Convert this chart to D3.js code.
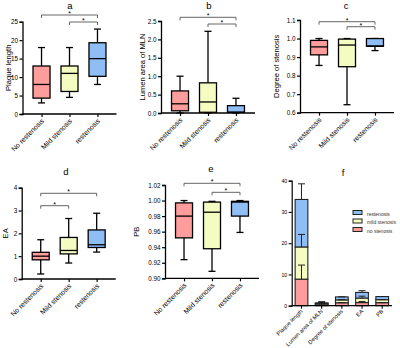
<!DOCTYPE html>
<html>
<head>
<meta charset="utf-8">
<script src="https://cdn.jsdelivr.net/npm/d3@7"></script>
<style>
  body { margin: 0; background: #fff; }
  svg { display: block; font-family: "Liberation Sans", Arial, sans-serif; }
</style>
</head>
<body>
<div id="chart"></div>
<script>
// groups on the x axis of panels a-e
var groups = ["No restenosis", "Mild stenosis", "restenosis"];
var colors = ["#ff9c9c", "#f5fcc2", "#8fbdf6"];

// box data per group: [min, q1, median, q3, max]
var plaqueLength = [[3, 4.3, 8, 13, 18], [4.5, 6.1, 11, 13, 18], [8, 10.2, 15, 19.3, 23]];
var lumenArea = [[0, 0.06, 0.25, 0.6, 1.0], [0, 0.02, 0.3, 0.82, 2.22], [0, 0.02, 0.02, 0.2, 0.4]];
var degreeStenosis = [[0.855, 0.912, 0.955, 0.99, 1.0], [0.643, 0.848, 0.965, 0.997, 1.0], [0.935, 0.958, 0.96, 1.0, 1.0]];
var eaValues = [[0.22, 0.84, 1.0, 1.17, 1.72], [0.7, 1.1, 1.25, 1.82, 2.65], [1.18, 1.38, 1.5, 2.15, 2.88]];
var pbValues = [[0.924, 0.952, 0.98, 0.997, 1.0], [0.909, 0.938, 0.985, 0.998, 0.999], [0.959, 0.98, 0.998, 0.999, 1.0]];

// tick labels
var ticksA = [0, 5, 10, 15, 20, 25];
var ticksB = [0, 0.5, 1.0, 1.5, 2.0, 2.5];
var ticksC = [0.6, 0.7, 0.8, 0.9, 1.0, 1.1];
var ticksD = [0, 1, 2, 3, 4];
var ticksE = [0.90, 0.92, 0.94, 0.96, 0.98, 1.00, 1.02];
var ticksF = [0, 10, 20, 30, 40];

// panel f: stacked means with SD
var fCategories = ["Plaque length", "Lumen area of MLN", "Degree of stenosis", "EA", "PB"];
var fNoStenosis = [8.5, 0.3, 0.95, 1.0, 0.97];
var fMildStenosis = [10.3, 0.45, 0.9, 1.45, 0.96];
var fRestenosis = [15.2, 0.15, 0.97, 1.8, 0.99];
var fNoSD = [4.5, 0.3, 0.04, 0.35, 0.03];
var fMildSD = [4, 0.55, 0.1, 0.6, 0.03];
var fRestSD = [5, 0.12, 0.03, 0.55, 0.02];
var fLegend = ["restenosis", "mild stenosis", "no stenosis"];

var svg = d3.select("#chart").append("svg").attr("width", 400).attr("height", 348);
var FONT = "Liberation Sans, Arial, sans-serif";

function boxPanel(o) {
  var x = d3.scalePoint().domain(groups).range([o.x0, o.x0 + 94]).padding(0.68);
  var y = d3.scaleLinear().domain(o.domain).range([o.y0, o.y1]);
  var g = svg.append("g");
  var bw = 17, cw = 7;

  g.append("g").attr("transform", "translate(" + o.x0 + ",0)")
    .call(d3.axisLeft(y).tickValues(o.ticks).tickFormat(d3.format(o.fmt)).tickSize(3).tickPadding(1.5))
    .call(function (a) {
      a.select(".domain").attr("stroke", "#000").attr("stroke-width", 1.3);
      a.selectAll("line").attr("stroke", "#000").attr("stroke-width", 1.2);
      a.selectAll("text").attr("font-size", 6.3).attr("font-family", FONT).attr("fill", "#000");
    });
  g.append("g").attr("transform", "translate(0," + o.y0 + ")")
    .call(d3.axisBottom(x).tickSize(3).tickSizeOuter(0))
    .call(function (a) {
      a.select(".domain").attr("stroke", "#000").attr("stroke-width", 1.3).attr("d", "M" + o.x0 + ",0H" + (o.x0 + 94));
      a.selectAll("line").attr("stroke", "#000").attr("stroke-width", 1.2);
      a.selectAll("text").attr("font-size", 7).attr("font-family", FONT).attr("fill", "#000")
        .attr("text-anchor", "end").attr("dy", 0).attr("y", 0)
        .attr("transform", "translate(2.5,7.5) rotate(-45)");
    });

  var b = g.selectAll(".box").data(o.data).join("g").attr("class", "box")
    .attr("transform", function (d, i) { return "translate(" + x(groups[i]) + ",0)"; });
  b.append("line").attr("y1", function (d) { return y(d[0]); }).attr("y2", function (d) { return y(d[4]); })
    .attr("stroke", "#000").attr("stroke-width", 1.3);
  b.append("line").attr("x1", -cw / 2).attr("x2", cw / 2)
    .attr("y1", function (d) { return y(d[0]); }).attr("y2", function (d) { return y(d[0]); })
    .attr("stroke", "#000").attr("stroke-width", 1.3);
  b.append("line").attr("x1", -cw / 2).attr("x2", cw / 2)
    .attr("y1", function (d) { return y(d[4]); }).attr("y2", function (d) { return y(d[4]); })
    .attr("stroke", "#000").attr("stroke-width", 1.3);
  b.append("rect").attr("x", -bw / 2).attr("width", bw)
    .attr("y", function (d) { return y(d[3]); })
    .attr("height", function (d) { return y(d[1]) - y(d[3]); })
    .attr("fill", function (d, i) { return colors[i]; })
    .attr("stroke", "#000").attr("stroke-width", 1.3);
  b.append("line").attr("x1", -bw / 2).attr("x2", bw / 2)
    .attr("y1", function (d) { return y(d[2]); }).attr("y2", function (d) { return y(d[2]); })
    .attr("stroke", "#000").attr("stroke-width", 1.3);

  // significance brackets
  o.brackets.forEach(function (br) {
    var xa = x(groups[br[0]]), xb = x(groups[br[1]]);
    g.append("path").attr("d", "M" + xa + "," + (br[2] + 3) + "V" + br[2] + "H" + xb + "V" + (br[2] + 3))
      .attr("fill", "none").attr("stroke", "#555").attr("stroke-width", 0.9);
    g.append("text").attr("x", (xa + xb) / 2).attr("y", br[2] + 1).attr("text-anchor", "middle")
      .attr("font-size", 7).attr("fill", "#000").text("*");
  });

  g.append("text").attr("x", o.titleX).attr("y", o.titleY).attr("text-anchor", "middle")
    .attr("font-size", 9.5).attr("fill", "#000").text(o.title);
  if (o.label) {
    g.append("text").attr("transform", "translate(" + o.labelX + "," + ((o.y0 + o.y1) / 2) + ") rotate(-90)")
      .attr("text-anchor", "middle").attr("font-size", 7.6).attr("font-weight", 500).attr("fill", "#000").text(o.label);
  }
}

boxPanel({ x0: 22.5, y0: 114, y1: 21.7, domain: [0, 25], ticks: ticksA, fmt: "d", data: plaqueLength,
  title: "a", titleX: 70, titleY: 9, label: "Plaque length", labelX: 11,
  brackets: [[0, 2, 15], [1, 2, 22]] });
boxPanel({ x0: 161, y0: 113, y1: 21, domain: [0, 2.5], ticks: ticksB, fmt: ".1f", data: lumenArea,
  title: "b", titleX: 209, titleY: 8.5, label: "Lumen area of MLN", labelX: 145,
  brackets: [[0, 2, 17.3], [1, 2, 24]] });
boxPanel({ x0: 300, y0: 112.7, y1: 20, domain: [0.6, 1.1], ticks: ticksC, fmt: ".1f", data: degreeStenosis,
  title: "c", titleX: 346, titleY: 8.5, label: "Degree of stenosis", labelX: 279,
  brackets: [[0, 2, 21.7], [1, 2, 26.7]] });
boxPanel({ x0: 21.7, y0: 279, y1: 187.7, domain: [0, 4], ticks: ticksD, fmt: "d", data: eaValues,
  title: "d", titleX: 66, titleY: 175, label: "EA", labelX: 8,
  brackets: [[0, 2, 193.3], [0, 1, 205.7]] });
boxPanel({ x0: 165, y0: 278.3, y1: 185, domain: [0.90, 1.02], ticks: ticksE, fmt: ".2f", data: pbValues,
  title: "e", titleX: 211, titleY: 172, label: "PB", labelX: 139,
  brackets: [[0, 2, 183.3], [1, 2, 192.3]] });

// panel f
(function () {
  var x0 = 291.7, y0 = 305.7;
  var x = d3.scaleBand().domain(fCategories).range([x0, 392]).paddingInner(0.37).paddingOuter(0.17);
  var y = d3.scaleLinear().domain([0, 40]).range([y0, 180.7]);
  var g = svg.append("g");
  var series = [fNoStenosis, fMildStenosis, fRestenosis];
  var sds = [fNoSD, fMildSD, fRestSD];
  var fcol = [colors[0], colors[1], colors[2]];

  g.append("g").attr("transform", "translate(" + x0 + ",0)")
    .call(d3.axisLeft(y).tickValues(ticksF).tickSize(3).tickPadding(1.5))
    .call(function (a) {
      a.select(".domain").attr("stroke", "#000").attr("stroke-width", 1.2);
      a.selectAll("line").attr("stroke", "#000").attr("stroke-width", 1.1);
      a.selectAll("text").attr("font-size", 5.2).attr("font-family", FONT).attr("fill", "#000");
    });

  fCategories.forEach(function (c, i) {
    var base = 0;
    series.forEach(function (s, k) {
      var top = base + s[i];
      g.append("rect").attr("x", x(c)).attr("width", x.bandwidth())
        .attr("y", y(top)).attr("height", y(base) - y(top))
        .attr("fill", fcol[k]).attr("stroke", "#222").attr("stroke-width", 1.1);
      base = top;
    });
  });
  // error bars on top of each segment (upward SD)
  fCategories.forEach(function (c, i) {
    var base = 0;
    series.forEach(function (s, k) {
      var top = base + s[i];
      var cx = x(c) + x.bandwidth() / 2;
      var e = y(top + sds[k][i]);
      g.append("path").attr("d", "M" + cx + "," + y(top) + "V" + e + "M" + (cx - 3.5) + "," + e + "H" + (cx + 3.5))
        .attr("stroke", "#222").attr("stroke-width", 1).attr("fill", "none");
      base = top;
    });
  });

  g.append("g").attr("transform", "translate(0," + y0 + ")")
    .call(d3.axisBottom(x).tickSize(3).tickSizeOuter(0))
    .call(function (a) {
      a.select(".domain").attr("stroke", "#000").attr("stroke-width", 1.2).attr("d", "M" + x0 + ",0H392");
      a.selectAll("line").attr("stroke", "#000").attr("stroke-width", 1.1);
      a.selectAll("text").attr("font-size", 5.6).attr("font-family", FONT).attr("fill", "#000")
        .attr("text-anchor", "end").attr("dy", 0).attr("y", 0)
        .attr("transform", "translate(1.5,6) rotate(-45)");
    });

  g.append("text").attr("x", 343).attr("y", 176).attr("text-anchor", "middle").attr("font-size", 9.5).attr("fill", "#000").text("f");

  var lg = g.selectAll(".lg").data(fLegend).join("g").attr("class", "lg")
    .attr("transform", function (d, i) { return "translate(353," + (212 + i * 8.5) + ")"; });
  lg.append("rect").attr("width", 9).attr("height", 4).attr("y", -1.5)
    .attr("fill", function (d, i) { return fcol[2 - i]; }).attr("stroke", "#222").attr("stroke-width", 1);
  lg.append("text").attr("x", 14).attr("y", 2).attr("dy", "0.3em").attr("font-size", 5).attr("fill", "#333").text(function (d) { return d; });
})();
</script>
</body>
</html>
